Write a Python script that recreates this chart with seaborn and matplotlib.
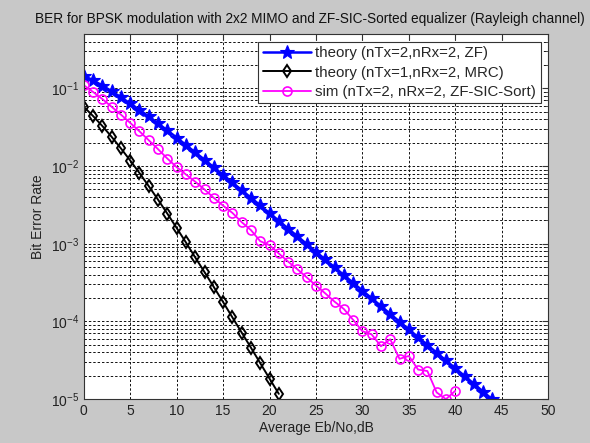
import numpy as np
import pandas as pd
import matplotlib
matplotlib.use("Agg")
import matplotlib.pyplot as plt
import seaborn as sns
from matplotlib.ticker import LogLocator, FixedLocator

# values
ebno_zf = list(range(0, 45))
ber_zf = [0.146, 0.127, 0.109, 0.092, 0.077, 0.064, 0.053, 0.0435, 0.0355, 0.0288,
          0.0233, 0.0187, 0.0150, 0.0121, 0.00966, 0.00772, 0.00616, 0.00491, 0.00392, 0.00312,
          0.00248, 0.00198, 0.00157, 0.00125, 0.000995, 0.00079, 0.000628, 0.000499, 0.000396, 0.000315,
          0.00025, 0.000199, 0.000158, 0.000125, 9.95e-5, 7.9e-5, 6.28e-5, 4.99e-5, 3.96e-5, 3.15e-5,
          2.5e-5, 1.99e-5, 1.58e-5, 1.25e-5, 9.9e-6]

ebno_mrc = list(range(0, 22))
ber_mrc = [0.058, 0.0441, 0.0328, 0.0238, 0.0169, 0.0118, 0.00813, 0.00551, 0.00369, 0.00244,
           0.0016, 0.00104, 0.000668, 0.000432, 0.000278, 0.000178, 0.000113, 7.2e-5, 4.6e-5, 2.91e-5,
           1.84e-5, 1.17e-5]

ebno_sic = list(range(0, 41))
ber_sic = [0.110, 0.090, 0.073, 0.058, 0.046, 0.036, 0.028, 0.0215, 0.0165, 0.0125,
           0.0097, 0.0078, 0.0063, 0.0050, 0.0039, 0.0031, 0.0025, 0.0019, 0.0015, 0.00108,
           0.00096, 0.00075, 0.00059, 0.00047, 0.00037, 0.00029, 0.00023, 0.00018, 0.000145, 0.000105,
           7.5e-5, 6.8e-5, 4.8e-5, 5.9e-5, 3.3e-5, 3.6e-5, 2.4e-5, 2.3e-5, 1.22e-5, 1.0e-5,
           1.28e-5]

labels = ["theory (nTx=2,nRx=2, ZF)",
          "theory (nTx=1,nRx=2, MRC)",
          "sim (nTx=2, nRx=2, ZF-SIC-Sort)"]

sns.set_style("white")
plt.rcParams["font.family"] = ["Liberation Sans", "DejaVu Sans"]
plt.rcParams["mathtext.default"] = "regular"
plt.rcParams["xtick.direction"] = "in"
plt.rcParams["ytick.direction"] = "in"

fig = plt.figure(figsize=(5.9, 4.43), dpi=100, facecolor="#c8c8c8")
ax = fig.add_axes([0.142, 0.099, 0.787, 0.824])
ax.set_facecolor("white")

sns.lineplot(x=ebno_zf, y=ber_zf, ax=ax, color="blue", marker="*", markersize=10,
             markerfacecolor="blue", markeredgecolor="blue", markeredgewidth=0.8,
             linewidth=1.8, label=labels[0])
sns.lineplot(x=ebno_mrc, y=ber_mrc, ax=ax, color="black", marker="d", markersize=6.5,
             markerfacecolor="none", markeredgecolor="black", markeredgewidth=1.4,
             linewidth=1.4, label=labels[1])
sns.lineplot(x=ebno_sic, y=ber_sic, ax=ax, color="magenta", marker="o", markersize=6.5,
             markerfacecolor="none", markeredgecolor="magenta", markeredgewidth=1.2,
             linewidth=1.3, label=labels[2])

ax.set_yscale("log")
ax.set_xlim(0, 50)
ax.set_ylim(1e-5, 0.5)
ax.xaxis.set_major_locator(FixedLocator(np.arange(0, 51, 5)))
ax.yaxis.set_major_locator(LogLocator(base=10, numticks=10))
ax.yaxis.set_minor_locator(LogLocator(base=10, subs=np.arange(2, 10), numticks=20))

grid_kw = dict(color="#111111", linestyle=(0, (2.5, 2)), linewidth=0.7)
ax.grid(True, which="major", axis="both", **grid_kw)
ax.grid(True, which="minor", axis="y", **grid_kw)

ax.tick_params(which="both", top=True, right=True, labelsize=10, colors="#333333",
               labelcolor="#222222")
ax.tick_params(which="major", length=4)
ax.tick_params(which="minor", length=2)
for s in ax.spines.values():
    s.set_color("#333333")
    s.set_linewidth(0.8)

ax.set_xlabel("Average Eb/No,dB", fontsize=10, color="#222222", labelpad=2)
ax.set_ylabel("Bit Error Rate", fontsize=10, color="#222222", labelpad=4)
ax.set_title("BER for BPSK modulation with 2x2 MIMO and ZF-SIC-Sorted equalizer (Rayleigh channel)",
             fontsize=9.85, color="#111111", pad=8, x=0.486)

leg = ax.legend(loc="upper right", fontsize=10.8, frameon=True, fancybox=False,
                framealpha=1, edgecolor="#333333", borderpad=0.3, labelspacing=0.36,
                handlelength=3.2, handletextpad=0.3, borderaxespad=0.5)
leg.get_frame().set_linewidth(0.8)

fig.savefig("out.png", dpi=100, facecolor=fig.get_facecolor())
